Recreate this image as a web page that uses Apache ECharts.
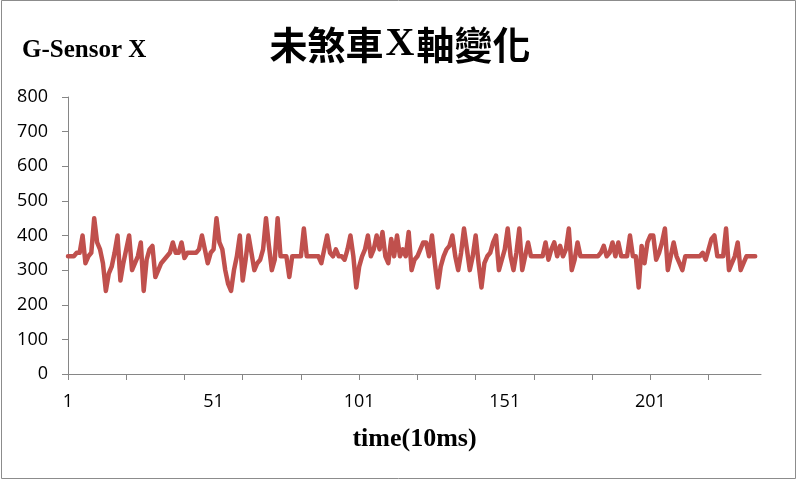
<!DOCTYPE html>
<html>
<head>
<meta charset="utf-8">
<script src="https://cdn.jsdelivr.net/npm/echarts@6/dist/echarts.min.js"></script>
<style>
html,body{margin:0;padding:0;background:#fff;}
#chart{width:800px;height:480px;}
</style>
</head>
<body>
<div id="chart"></div>
<script>
// Chart texts
var chartTitle = '未煞車X軸變化';
var yAxisTitle = 'G-Sensor X';
var xAxisTitle = 'time(10ms)';

// Y axis scale
var yMin = 0;
var yMax = 800;
var yStep = 100;

// Number of time steps on the category axis (labels 1..N)
var categoryCount = 239;

// G-Sensor X readings (one per 10 ms)
var sensorX = [
  340,340,340,350,350,400,320,340,350,450,
  380,360,320,240,290,310,350,400,270,320,
  360,400,300,320,340,380,240,330,360,370,
  280,300,320,330,340,350,380,350,350,380,
  335,350,350,350,350,360,400,360,320,350,
  360,450,380,360,300,260,240,300,340,400,
  270,330,400,350,300,320,330,360,450,370,
  300,330,450,340,340,340,280,340,340,340,
  340,420,340,340,340,340,340,320,360,400,
  350,340,360,340,340,330,360,400,340,250,
  310,340,360,400,340,360,400,360,410,340,
  320,390,340,400,340,360,340,410,300,330,
  340,360,380,380,340,400,320,250,310,340,
  360,370,400,340,300,350,420,360,300,340,
  400,320,250,320,340,350,380,400,300,330,
  360,420,340,300,350,420,300,340,380,340,
  340,340,340,340,380,330,360,380,340,370,
  340,360,420,300,330,380,340,340,340,340,
  340,340,340,350,370,340,350,380,340,380,
  340,340,340,400,340,340,250,370,320,380,
  400,400,330,350,380,420,300,340,380,340,
  320,300,340,340,340,340,340,340,350,330,
  360,390,400,340,340,340,420,300,320,340,
  380,300,320,340,340,340,340
];

var categories = [];
for (var k = 1; k <= categoryCount; k++) categories.push(String(k));

var chart = echarts.init(document.getElementById('chart'), null, {renderer: 'canvas'});
chart.setOption({
  animation: false,
  backgroundColor: '#ffffff',
  title: [
    {
      text: '{a|未煞車}{b|X}{a|軸變化}',
      left: 'center',
      top: 20,
      textStyle: {
        rich: {
          a: {fontFamily: '"Noto Sans CJK TC"', fontWeight: 'bold', fontSize: 38, color: '#000', padding: [0, 2, 0, 2]},
          b: {fontFamily: '"Liberation Serif"', fontWeight: 'bold', fontSize: 40, color: '#000'}
        }
      }
    },
    {
      text: yAxisTitle,
      left: 17,
      top: 33,
      textStyle: {fontFamily: '"Liberation Serif"', fontWeight: 'bold', fontSize: 25, color: '#000'}
    }
  ],
  graphic: [{
    type: 'rect',
    shape: {x: 1.5, y: 0.5, width: 794, height: 478},
    style: {fill: 'none', stroke: '#8c8c8c', lineWidth: 1},
    silent: true
  }],
  grid: {left: 68, right: 39, top: 97, bottom: 106, containLabel: false},
  xAxis: {
    type: 'category',
    data: categories,
    boundaryGap: false,
    name: xAxisTitle,
    nameLocation: 'middle',
    nameGap: 52,
    nameTextStyle: {fontFamily: '"Liberation Serif"', fontWeight: 'bold', fontSize: 26, color: '#000'},
    axisLine: {lineStyle: {color: '#868686', width: 1}},
    axisTick: {show: true, interval: 19, length: 6, inside: false, lineStyle: {color: '#868686'}},
    axisLabel: {interval: 49, margin: 19, fontFamily: '"Open Sans"', fontSize: 18, color: '#000'},
    splitLine: {show: false}
  },
  yAxis: {
    type: 'value',
    min: yMin,
    max: yMax,
    interval: yStep,
    axisLine: {show: true, lineStyle: {color: '#868686', width: 1}},
    axisTick: {show: true, length: 6, lineStyle: {color: '#868686'}},
    axisLabel: {margin: 20, fontFamily: '"Open Sans"', fontSize: 18, color: '#000'},
    splitLine: {show: false}
  },
  series: [{
    type: 'line',
    data: sensorX,
    symbol: 'none',
    smooth: false,
    lineStyle: {color: '#C0504D', width: 4.5, join: 'round', cap: 'round'},
    itemStyle: {color: '#C0504D'}
  }]
});
</script>
</body>
</html>
